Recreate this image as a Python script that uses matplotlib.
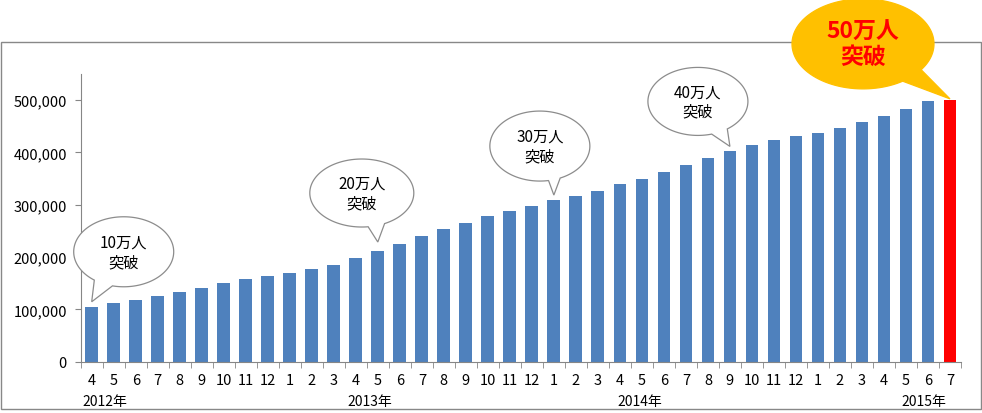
import matplotlib.pyplot as plt
from matplotlib.patches import Polygon, Rectangle
import numpy as np

plt.rcParams['font.family'] = ['Noto Sans CJK JP', 'DejaVu Sans']

# monthly data, 2012/4 - 2015/7
months = [4, 5, 6, 7, 8, 9, 10, 11, 12,
          1, 2, 3, 4, 5, 6, 7, 8, 9, 10, 11, 12,
          1, 2, 3, 4, 5, 6, 7, 8, 9, 10, 11, 12,
          1, 2, 3, 4, 5, 6, 7]
values = [105000, 111600, 118000, 125000, 134000, 141500, 150000, 158000, 164000,
          170000, 178000, 185500, 198000, 211600, 225600, 241000, 253000, 265000, 279000, 289000, 298000,
          309000, 317000, 327000, 339000, 350000, 362000, 376000, 389000, 402000, 414500, 423000, 431500,
          437000, 446000, 458000, 470000, 484000, 498500, 500500]
year_labels = ['2012年', '2013年', '2014年', '2015年']
year_pos = [0.6, 12.65, 24.9, 37.8]
milestone_idx = [0, 13, 21, 29, 39]
milestone_text = ['10万人\n突破', '20万人\n突破', '30万人\n突破', '40万人\n突破', '50万人\n突破']

W, H = 982, 414
fig = plt.figure(figsize=(W / 100, H / 100), dpi=100)
ax = fig.add_axes([80.7 / W, 1 - 362.7 / H, 880.3 / W, (362.7 - 75) / H])

x = np.arange(len(values))
colors = ['#4F81BD'] * len(values)
colors[-1] = '#FF0000'
ax.bar(x, values, width=0.58, color=colors, zorder=2)

ax.set_xlim(-0.5, len(values) - 0.5)
ax.set_ylim(0, 550000)
ax.set_yticks(range(0, 500001, 100000))
ax.set_yticklabels(['{:,}'.format(v) for v in range(0, 500001, 100000)], fontsize=10.5)
ax.set_xticks(x)
ax.set_xticklabels([str(m) for m in months], fontsize=10.5)
ax.set_xticks(np.arange(-0.5, len(values), 1), minor=True)
ax.tick_params(axis='x', which='major', length=0, pad=8)
ax.tick_params(axis='x', which='minor', length=4, color='#868686')
ax.tick_params(axis='y', length=4, color='#868686', pad=6)
for s in ['top', 'right']:
    ax.spines[s].set_visible(False)
for s in ['left', 'bottom']:
    ax.spines[s].set_color('#868686')

# year labels under the months
for lbl, p in zip(year_labels, year_pos):
    ax.text(p, -0.135, lbl, transform=ax.get_xaxis_transform(), ha='center', va='center', fontsize=10)

# outer frame
fig.add_artist(Rectangle((1 / W, 1 - 410 / H), 980 / W, 367 / H, transform=fig.transFigure,
                         fill=False, edgecolor='#888888', lw=1, zorder=0))


def draw_bubble(idx, text, dx, dy, a, b, th1, th2, gap, face, edge, tcolor, fsize, bold, lsp):
    # speech bubble: ellipse with a tail pointing at the bar top
    tip = ax.transData.transform((idx, values[idx])) + np.array([0, gap])
    center = tip + np.array([dx, -dy])
    t = np.radians(np.linspace(th2, th1 + 360, 240))
    pts = np.column_stack([center[0] + a * np.cos(t), center[1] + b * np.sin(t)])
    pts = np.vstack([pts, tip])
    pts = fig.transFigure.inverted().transform(pts)
    fig.add_artist(Polygon(pts, closed=True, transform=fig.transFigure, facecolor=face,
                           edgecolor=edge, lw=0.9, zorder=5))
    c = fig.transFigure.inverted().transform(center)
    fig.text(c[0], c[1], text, ha='center', va='center', fontsize=fsize, color=tcolor,
             fontweight='bold' if bold else 'normal', linespacing=lsp, zorder=6)


draw_bubble(milestone_idx[0], milestone_text[0], 32, -50, 50, 35, 234, 257, 5, 'white', '#8C8C8C', 'black', 11, False, 1.2)
draw_bubble(milestone_idx[1], milestone_text[1], -16, -49, 52, 34, 277, 296, 9, 'white', '#8C8C8C', 'black', 11, False, 1.2)
draw_bubble(milestone_idx[2], milestone_text[2], -14, -49, 50, 35, 280, 294, 5, 'white', '#8C8C8C', 'black', 11, False, 1.2)
draw_bubble(milestone_idx[3], milestone_text[3], -32, -45, 50, 34, 286, 306, 5, 'white', '#8C8C8C', 'black', 11, False, 1.2)
draw_bubble(milestone_idx[4], milestone_text[4], -87, -55, 71, 45, 304, 325, 1, '#FFC000', '#FFC000', '#FF0000', 16.5, True, 1.15)

fig.savefig('out.png', dpi=100)
